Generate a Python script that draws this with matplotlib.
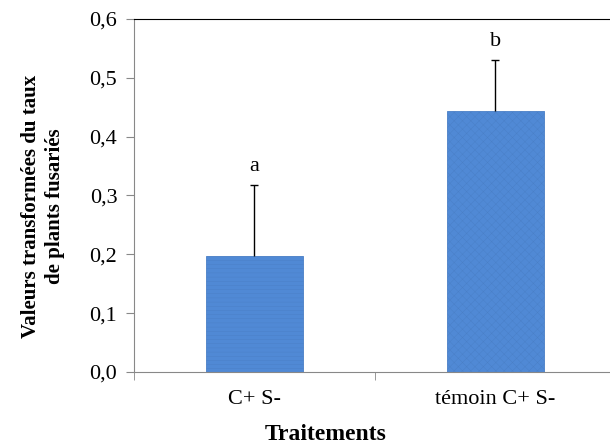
import matplotlib.pyplot as plt

categories = ['C+ S-', 'témoin C+ S-']
values = [0.198, 0.444]
errors = [0.12, 0.086]
letters = ['a', 'b']
yticks = [0.0, 0.1, 0.2, 0.3, 0.4, 0.5, 0.6]

plt.rcParams['font.family'] = ['Liberation Serif', 'DejaVu Serif']
plt.rcParams['hatch.linewidth'] = 0.3

fig = plt.figure(figsize=(6.1, 4.44), dpi=100)
# axes right edge lies beyond the figure, as in the original
ax = fig.add_axes([134 / 610, (444 - 372) / 444, 482 / 610, 353 / 444])

x = [0, 1]
bars = ax.bar(x, values, width=0.4, color='#5089D5', edgecolor='#4A7FC6', linewidth=0.6)
bars[0].set_hatch('----')
bars[1].set_hatch('xxxx')

eb = ax.errorbar(x, values, yerr=[[0, 0], errors], fmt='none', ecolor='black',
                 elinewidth=1, capsize=3, capthick=1)
eb[1][0].set_visible(False)  # no lower cap
for xi, v, e, t in zip(x, values, errors, letters):
    ax.text(xi, v + e + 0.015, t, ha='center', va='bottom', fontsize=16)

ax.set_xlim(-0.5, 1.5)
ax.set_ylim(0, 0.6)
ax.set_yticks(yticks)
ax.set_yticklabels([f'{t:.1f}'.replace('.', ',') for t in yticks], fontsize=16)
ax.set_xticks(x)
ax.set_xticklabels(categories, fontsize=16)
ax.tick_params(axis='x', length=0, pad=13)
ax.set_xticks([-0.5, 0.5, 1.5], minor=True)
ax.tick_params(axis='x', which='minor', length=6, color='#888888', direction='out')
ax.tick_params(axis='y', length=6, color='#888888', direction='out', pad=6)

for s in ['left', 'bottom']:
    ax.spines[s].set_color('#888888')
ax.spines['top'].set_color('black')
ax.spines['right'].set_visible(False)

ax.set_xlabel('Traitements', fontsize=17, fontweight='bold')
ax.xaxis.set_label_coords(0.398, -0.148)
ax.set_ylabel('Valeurs transformées du taux\nde plants fusariés', fontsize=15,
              fontweight='bold', linespacing=1.3)
ax.yaxis.set_label_coords(-0.143, 0.47)

plt.savefig('out.png', dpi=100)
plt.close()
